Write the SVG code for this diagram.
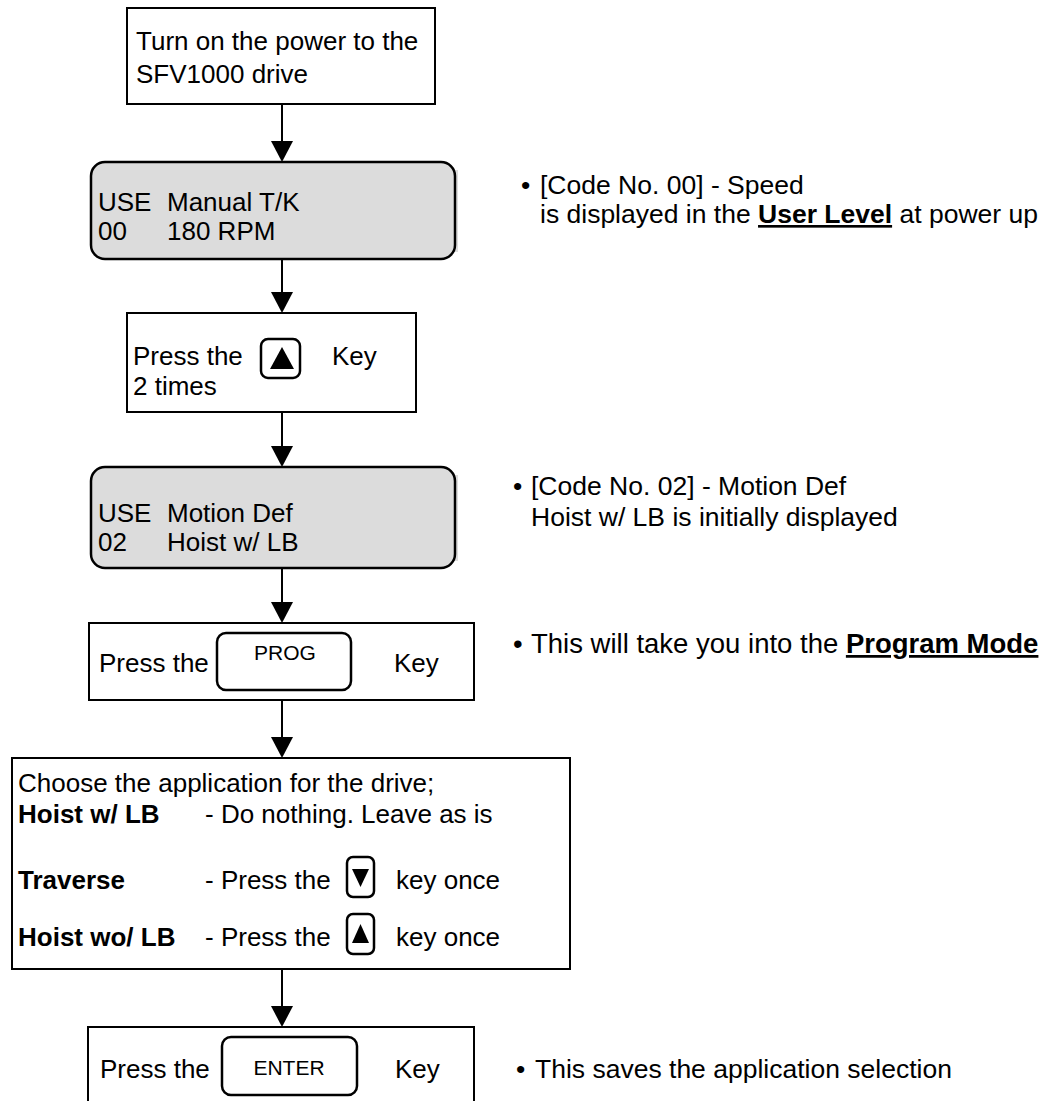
<svg xmlns="http://www.w3.org/2000/svg" width="1050" height="1101" viewBox="0 0 1050 1101">
<style>
text{font-family:"Liberation Sans",Arial,sans-serif;font-size:26px;fill:#000}
.box{fill:#fff;stroke:#000;stroke-width:2}
.lcd{fill:#dcdcdc;stroke:#000;stroke-width:2.5}
.shade{fill:#dcdcdc}
.key{fill:#fff;stroke:#000;stroke-width:2.5}
.keyl{font-size:21px}
.b{font-weight:bold}
.note{font-size:26.5px}
.conn line{stroke:#000;stroke-width:2}
.conn path{fill:#000}
</style>
<g id="connectors" class="conn">
<line x1="282" y1="104" x2="282" y2="142"/><path d="M271,141 L293,141 L282,162 Z"/>
<line x1="282" y1="260" x2="282" y2="293"/><path d="M271,292 L293,292 L282,313 Z"/>
<line x1="282" y1="412" x2="282" y2="447"/><path d="M271,446 L293,446 L282,467 Z"/>
<line x1="282" y1="568" x2="282" y2="603"/><path d="M271,602 L293,602 L282,623 Z"/>
<line x1="282" y1="700" x2="282" y2="738"/><path d="M271,737 L293,737 L282,758 Z"/>
<line x1="282" y1="969" x2="282" y2="1007"/><path d="M271,1006 L293,1006 L282,1027 Z"/>
</g>
<g id="n1">
<rect class="box" x="127" y="8" width="308" height="96"/>
<text x="136" y="50">Turn on the power to the</text>
<text x="136" y="83">SFV1000 drive</text>
</g>
<g id="n2">
<rect class="shade" x="450" y="170" width="8" height="82"/>
<rect class="lcd" x="91" y="162" width="364" height="97" rx="14"/>
<text x="98" y="211">USE</text><text x="167" y="211">Manual T/K</text>
<text x="98" y="240">00</text><text x="167" y="240">180 RPM</text>
</g>
<g id="n3">
<rect class="box" x="127" y="313" width="289" height="99"/>
<text x="133" y="365">Press the</text>
<rect class="key" x="261" y="339" width="39" height="39" rx="7"/>
<path d="M282,347 L270,369 L294,369 Z"/>
<text x="332" y="365">Key</text>
<text x="133" y="395">2 times</text>
</g>
<g id="n4">
<rect class="shade" x="450" y="475" width="8" height="86"/>
<rect class="lcd" x="91" y="467" width="364" height="101" rx="14"/>
<text x="98" y="522">USE</text><text x="167" y="522">Motion Def</text>
<text x="98" y="551">02</text><text x="167" y="551">Hoist w/ LB</text>
</g>
<g id="n5">
<rect class="box" x="89" y="623" width="385" height="77"/>
<text x="99" y="672">Press the</text>
<rect class="key" x="217" y="633" width="134" height="57" rx="9"/>
<text class="keyl" x="285" y="660" text-anchor="middle">PROG</text>
<text x="394" y="672">Key</text>
</g>
<g id="n6">
<rect class="box" x="12" y="758" width="558" height="211"/>
<text x="18" y="792">Choose the application for the drive;</text>
<text class="b" x="18" y="823">Hoist w/ LB</text>
<text x="205" y="823">- Do nothing. Leave as is</text>
<text class="b" x="18" y="889">Traverse</text>
<text x="205" y="889">- Press the</text>
<rect class="key" x="347" y="857" width="27" height="40" rx="6"/>
<path d="M352,869 L369,869 L360.5,887 Z"/>
<text x="396" y="889">key once</text>
<text class="b" x="18" y="946">Hoist wo/ LB</text>
<text x="205" y="946">- Press the</text>
<rect class="key" x="347" y="914" width="27" height="40" rx="6"/>
<path d="M360.5,924 L352,943 L369,943 Z"/>
<text x="396" y="946">key once</text>
</g>
<g id="n7">
<rect class="box" x="88" y="1027" width="386" height="80"/>
<text x="100" y="1078">Press the</text>
<rect class="key" x="222" y="1037" width="135" height="58" rx="9"/>
<text class="keyl" x="289" y="1075" text-anchor="middle">ENTER</text>
<text x="395" y="1078">Key</text>
</g>
<g id="notes" class="note">
<text class="note" x="521" y="194">•</text><text class="note" x="540" y="194">[Code No. 00] - Speed</text>
<text class="note" x="540" y="223">is displayed in the <tspan class="b" text-decoration="underline">User Level</tspan> at power up</text>
<text class="note" x="513" y="495">•</text><text class="note" x="531" y="495">[Code No. 02] - Motion Def</text>
<text class="note" x="531" y="526">Hoist w/ LB is initially displayed</text>
<text class="note" x="513" y="653" style="font-size:27.5px">•</text><text x="531" y="653" style="font-size:27.5px">This will take you into the <tspan class="b" text-decoration="underline">Program Mode</tspan></text>
<text class="note" x="516" y="1078">•</text><text class="note" x="535" y="1078">This saves the application selection</text>
</g>
</svg>
